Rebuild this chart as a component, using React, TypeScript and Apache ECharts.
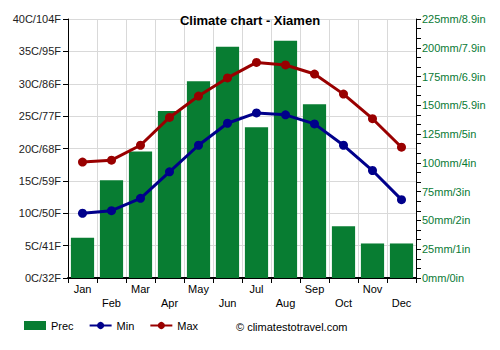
import React, { useEffect, useRef } from "react";
import * as echarts from "echarts";

const months = ["Jan", "Feb", "Mar", "Apr", "May", "Jun", "Jul", "Aug", "Sep", "Oct", "Nov", "Dec"];
const precMm = [35, 85, 110, 145, 171, 201, 131, 206, 151, 45, 30, 30];
const minC = [10.0, 10.4, 12.3, 16.4, 20.5, 23.9, 25.5, 25.2, 23.8, 20.5, 16.6, 12.1];
const maxC = [17.9, 18.2, 20.5, 24.8, 28.1, 30.9, 33.3, 32.9, 31.5, 28.4, 24.6, 20.2];
const tempTicks = ["0C/32F", "5C/41F", "10C/50F", "15C/59F", "20C/68F", "25C/77F", "30C/86F", "35C/95F", "40C/104F"];
const precTicks = ["0mm/0in", "25mm/1in", "50mm/2in", "75mm/3in", "100mm/4in", "125mm/5in", "150mm/5.9in", "175mm/6.9in", "200mm/7.9in", "225mm/8.9in"];

const FONT = "Liberation Sans, Arial, sans-serif";

export default function App() {
  const ref = useRef<HTMLDivElement>(null);
  useEffect(() => {
    if (!ref.current) return;
    const chart = echarts.init(ref.current, null, { renderer: "svg" });
    chart.setOption({
      animation: false,
      textStyle: { fontFamily: FONT },
      title: {
        text: "Climate chart - Xiamen",
        left: "center",
        top: 9,
        textStyle: { fontSize: 13, fontWeight: "bold", color: "#000", fontFamily: FONT },
      },
      legend: {
        left: 19,
        top: 315,
        itemWidth: 22,
        itemHeight: 9,
        itemGap: 15,
        textStyle: { fontSize: 11, color: "#000", fontFamily: FONT },
        data: [
          { name: "Prec", icon: "rect" },
          { name: "Min" },
          { name: "Max" },
        ],
      },
      graphic: [
        {
          type: "text",
          left: 236,
          top: 321,
          style: { text: "© climatestotravel.com", fontSize: 11, fill: "#000", fontFamily: FONT },
        },
      ],
      grid: { left: 68, right: 84, top: 19, bottom: 72 },
      xAxis: {
        type: "category",
        data: months,
        axisLine: { lineStyle: { color: "#000", width: 2 } },
        axisTick: { show: true, alignWithLabel: false, length: 5, lineStyle: { color: "#000" } },
        splitLine: { show: true, lineStyle: { color: "#d9d9d9" } },
        axisLabel: {
          interval: 0,
          fontSize: 11,
          color: "#000",
          margin: 4,
          lineHeight: 14,
          formatter: (v: string) => (months.indexOf(v) % 2 === 1 ? "\n" + v : v),
        },
      },
      yAxis: [
        {
          type: "value",
          min: 0,
          max: 40,
          interval: 5,
          position: "left",
          axisLine: { show: true, lineStyle: { color: "#000" } },
          axisTick: { show: true, length: 5, lineStyle: { color: "#000" } },
          splitLine: { show: true, lineStyle: { color: "#d9d9d9" } },
          axisLabel: {
            fontSize: 11,
            color: "#222",
            margin: 7,
            formatter: (v: number) => tempTicks[Math.round(v / 5)] ?? "",
          },
        },
        {
          type: "value",
          min: 0,
          max: 225,
          interval: 25,
          position: "right",
          axisLine: { show: true, lineStyle: { color: "#000" } },
          axisTick: { show: true, length: 5, lineStyle: { color: "#000" } },
          minorTick: { show: true, splitNumber: 3, length: 5, lineStyle: { color: "#000" } },
          splitLine: { show: false },
          axisLabel: {
            fontSize: 11,
            color: "#0a7a35",
            margin: 6,
            formatter: (v: number) => precTicks[Math.round(v / 25)] ?? "",
          },
        },
      ],
      series: [
        {
          name: "Prec",
          type: "bar",
          yAxisIndex: 1,
          data: precMm,
          barCategoryGap: "20%",
          itemStyle: { color: "#087d32" },
        },
        {
          name: "Min",
          type: "line",
          yAxisIndex: 0,
          data: minC,
          symbol: "circle",
          symbolSize: 9,
          lineStyle: { color: "#00008b", width: 3 },
          itemStyle: { color: "#00008b" },
        },
        {
          name: "Max",
          type: "line",
          yAxisIndex: 0,
          data: maxC,
          symbol: "circle",
          symbolSize: 9,
          lineStyle: { color: "#990000", width: 3 },
          itemStyle: { color: "#990000" },
        },
      ],
    });
    return () => chart.dispose();
  }, []);
  return <div ref={ref} style={{ position: "absolute", left: 0, top: 0, width: 500, height: 350 }} />;
}
